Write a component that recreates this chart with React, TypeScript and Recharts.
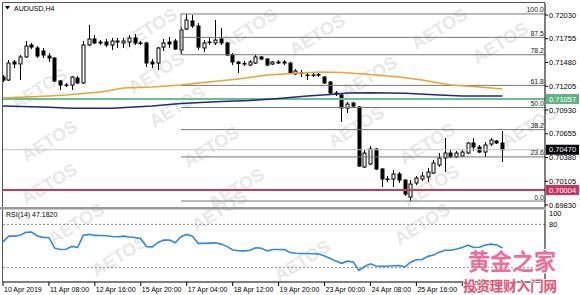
import { Bar, ComposedChart, Line, ReferenceLine, XAxis, YAxis } from "recharts";

const FONT = '"Liberation Sans", Arial, sans-serif';
const X_MAX = 94.4;

// AUDUSD H4 candles, 10 Apr - 26 Apr 2019
const opens = [
  0.71312, 0.71277, 0.71486, 0.71463, 0.71544, 0.71683, 0.71648, 0.71613, 0.71555, 0.71532,
  0.71266, 0.71219, 0.71219, 0.713, 0.71243, 0.71683, 0.71752, 0.71717, 0.71717, 0.71683,
  0.71729, 0.71706, 0.71717, 0.71764, 0.71706, 0.71706, 0.71486, 0.71474, 0.71659, 0.71717,
  0.71729, 0.71625, 0.71868, 0.71961, 0.71903, 0.71648, 0.71717, 0.71706, 0.71752, 0.71706,
  0.71567, 0.71486, 0.71468, 0.71451, 0.71474, 0.71544, 0.7152, 0.71463, 0.71486, 0.71486,
  0.71474, 0.71347, 0.71358, 0.71335, 0.71335, 0.71341, 0.71312, 0.71254, 0.71127, 0.71104,
  0.70953, 0.71011, 0.70965, 0.7027, 0.70305, 0.70478, 0.70247, 0.70131, 0.70131, 0.70189,
  0.70119, 0.69922, 0.70085, 0.70131, 0.70154, 0.702, 0.70293, 0.70374, 0.70432, 0.70386,
  0.70397, 0.70432, 0.70548, 0.70501, 0.70443, 0.70536, 0.70571, 0.70548,
];
const highs = [
  0.71335, 0.71509, 0.71509, 0.71567, 0.71729, 0.71706, 0.71671, 0.71648, 0.7159, 0.71544,
  0.71277, 0.71243, 0.71324, 0.71324, 0.71729, 0.71914, 0.71798, 0.7174, 0.71752, 0.71764,
  0.71764, 0.71764, 0.71798, 0.7181, 0.71729, 0.71717, 0.7152, 0.71659, 0.71752, 0.71775,
  0.71752, 0.71891, 0.72042, 0.7203, 0.71937, 0.7174, 0.71775, 0.71972, 0.71879, 0.71717,
  0.7159, 0.71497, 0.71497, 0.71509, 0.71567, 0.71555, 0.71532, 0.71497, 0.71509, 0.71509,
  0.71486, 0.71405, 0.71393, 0.7137, 0.7137, 0.7137, 0.71324, 0.71266, 0.7115, 0.71115,
  0.71023, 0.71023, 0.70976, 0.70467, 0.70513, 0.7049, 0.70258, 0.70166, 0.70235, 0.70212,
  0.70131, 0.70119, 0.70166, 0.70212, 0.70258, 0.70351, 0.70432, 0.70606, 0.70467, 0.70455,
  0.70467, 0.70559, 0.70606, 0.70525, 0.70559, 0.70606, 0.70582, 0.70687,
];
const lows = [
  0.71254, 0.71266, 0.71416, 0.71277, 0.71532, 0.71636, 0.71532, 0.71532, 0.71486, 0.71254,
  0.71162, 0.71196, 0.71162, 0.71231, 0.71231, 0.71671, 0.71694, 0.71683, 0.71659, 0.71625,
  0.71648, 0.71648, 0.71659, 0.71683, 0.71683, 0.71428, 0.71416, 0.71393, 0.71613, 0.71648,
  0.71625, 0.71567, 0.71856, 0.71879, 0.71625, 0.71602, 0.71683, 0.71683, 0.71683, 0.71555,
  0.71451, 0.71358, 0.71439, 0.71439, 0.71463, 0.71509, 0.71439, 0.71451, 0.71463, 0.71451,
  0.71347, 0.71335, 0.71312, 0.71277, 0.71312, 0.71312, 0.71231, 0.71115, 0.71092, 0.70791,
  0.70895, 0.70953, 0.7027, 0.70258, 0.70293, 0.70235, 0.70038, 0.70096, 0.70038, 0.70085,
  0.69934, 0.69876, 0.70061, 0.70108, 0.70096, 0.70189, 0.7027, 0.70212, 0.70374, 0.70374,
  0.70386, 0.7042, 0.70455, 0.70432, 0.70386, 0.70513, 0.70536, 0.70328,
];
const closes = [
  0.71277, 0.71474, 0.71463, 0.71544, 0.71671, 0.71659, 0.71555, 0.71567, 0.71532, 0.71266,
  0.71219, 0.71214, 0.71312, 0.71243, 0.71683, 0.71752, 0.71706, 0.71706, 0.71683, 0.71729,
  0.71717, 0.71729, 0.71764, 0.71706, 0.717, 0.71474, 0.71463, 0.71648, 0.71706, 0.71694,
  0.71636, 0.71856, 0.71972, 0.71903, 0.71659, 0.71706, 0.71711, 0.7174, 0.71706, 0.71567,
  0.71486, 0.71468, 0.71463, 0.71486, 0.71544, 0.7152, 0.71451, 0.71486, 0.71474, 0.71474,
  0.71358, 0.71381, 0.71353, 0.7133, 0.7133, 0.71335, 0.71243, 0.71127, 0.71115, 0.70953,
  0.70999, 0.70976, 0.70281, 0.70432, 0.70478, 0.70247, 0.70131, 0.70125, 0.70189, 0.70119,
  0.69957, 0.70073, 0.70142, 0.70166, 0.70212, 0.70316, 0.70374, 0.70432, 0.70386, 0.70432,
  0.70443, 0.70548, 0.70501, 0.70443, 0.70525, 0.70582, 0.70548, 0.7047,
];

const rsiValues = [
  55.8, 63.7, 63.7, 65, 69, 69.3, 64, 62, 61.5, 47,
  45.2, 45.4, 49.5, 48, 65, 66.2, 64.7, 64.5, 64.2, 63.3,
  62.8, 63.7, 62.5, 61.8, 60, 49, 48.8, 54.9, 58.2, 58.2,
  54.4, 62.8, 66.1, 63.7, 53.6, 53.6, 54, 54.4, 52.6, 49.5,
  44.4, 43.5, 43.2, 44.2, 47.6, 46.8, 43.2, 45.2, 45.2, 45,
  41, 40, 39.6, 39.6, 39.3, 38.8, 36, 32.6, 29, 26,
  28.9, 27.9, 16, 21.5, 25.2, 22.3, 21.9, 21.9, 22.5, 22.8,
  21, 27.5, 31, 31.2, 35.6, 37.4, 41.5, 44.2, 44.2, 45.8,
  47.8, 51.2, 48, 48.2, 51.5, 52.6, 51.5, 47.18,
];

// moving averages, read at a few bars
const fastMaIdx = [0, 4, 8, 11, 17, 21, 26, 31, 34, 41, 46, 52, 55, 59, 64, 69, 73, 78, 83, 87];
const fastMaVals = [
  0.71069, 0.71081, 0.71092, 0.71104, 0.71138, 0.71185, 0.71196, 0.71219, 0.71243, 0.71289,
  0.71335, 0.71358, 0.7137, 0.71364, 0.71341, 0.71312, 0.71277, 0.71219, 0.71196, 0.71173,
];
const slowMaIdx = [0, 8, 12, 19, 26, 31, 38, 43, 48, 53, 57, 60, 64, 70, 76, 80, 87];
const slowMaVals = [
  0.70976, 0.70961, 0.70949, 0.70949, 0.70976, 0.71005, 0.71029, 0.7104, 0.71063, 0.71092,
  0.7111, 0.71127, 0.7113, 0.71123, 0.71104, 0.71092, 0.71092,
];

const fibStart = 31;
const fibNames = ["100.0", "87.5", "78.2", "61.8", "50.0", "38.2", "23.6", "0.0"];
const fibLevels = [0.72042, 0.71771, 0.7157, 0.71215, 0.70959, 0.70703, 0.70387, 0.69876];

const priceTicks = [0.7203, 0.71755, 0.7148, 0.71205, 0.7093, 0.70655, 0.7038, 0.70105, 0.6983];
const greenLevel = 0.71057;
const redLevel = 0.70004;
const lastPrice = 0.7047;

const dateIdx = [0, 8, 16, 24, 32, 40, 48, 56, 64, 72, 80];
const dateLabels = [
  "10 Apr 2019", "11 Apr 08:00", "12 Apr 16:00", "15 Apr 20:00", "17 Apr 04:00", "18 Apr 12:00",
  "19 Apr 20:00", "23 Apr 00:00", "24 Apr 08:00", "25 Apr 16:00", "26 Apr 20:00",
];

// background "AETOS" stamps (kept inside the frame)
const wmX = [150, 157, 40, 318, 440, 501, 250, 50, 50, 178, 212, 237, 370, 357, 428, 530, 432, 77, 120, 220, 423, 303];
const wmY = [30, 74, 90, 36, 30, 44, 30, 142, 185, 108, 148, 190, 78, 128, 145, 128, 187, 225, 257, 212, 225, 262];

const fastAt = new Map(fastMaIdx.map((k, j) => [k, fastMaVals[j]]));
const slowAt = new Map(slowMaIdx.map((k, j) => [k, slowMaVals[j]]));

const data = opens.map((open, i) => ({
  i,
  open,
  high: highs[i],
  low: lows[i],
  close: closes[i],
  range: [lows[i], highs[i]],
  rsi: rsiValues[i],
  maFast: fastAt.get(i) ?? null,
  maSlow: slowAt.get(i) ?? null,
}));

function Candle(props: any) {
  const { x, y, width, height, payload } = props;
  if (x == null || !payload) return null;
  const top = Math.min(y, y + height);
  const h = Math.abs(height);
  const span = payload.high - payload.low;
  const toY = (v: number) => (span > 0 ? top + ((payload.high - v) / span) * h : top);
  const cx = Math.round(x + width / 2) + 0.5;
  const yo = toY(payload.open);
  const yc = toY(payload.close);
  const up = payload.close >= payload.open;
  return (
    <g>
      <line x1={cx} x2={cx} y1={top} y2={top + h} stroke="#000" />
      <rect
        x={cx - 1.5}
        y={Math.min(yo, yc)}
        width={3}
        height={Math.max(Math.abs(yo - yc), 0.5)}
        fill={up ? "#fff" : "#000"}
        stroke="#000"
      />
    </g>
  );
}

function PriceTick({ x, y, payload }: any) {
  return (
    <g>
      <line x1={x} x2={x + 3} y1={y} y2={y} stroke="#000" />
      <text x={x + 4} y={y + 2.7} fontSize={7.5} fontFamily={FONT} fill="#000">
        {Number(payload.value).toFixed(5)}
      </text>
    </g>
  );
}

function RsiTick({ x, y, payload }: any) {
  return (
    <text x={x + 4} y={payload.value === 100 ? y + 6 : y + 2.7} fontSize={7.5} fontFamily={FONT} fill="#000">
      {payload.value}
    </text>
  );
}

function DateTick({ x, y, payload }: any) {
  const k = dateIdx.indexOf(payload.value);
  return (
    <g>
      <line x1={x} x2={x} y1={y} y2={y + 4} stroke="#000" />
      <text x={x + 1} y={y + 10} fontSize={7} fontFamily={FONT} fill="#000">
        {dateLabels[k]}
      </text>
    </g>
  );
}

const priceBox = (bg: string, value: number) => (p: any) => {
  const vb = p.viewBox;
  const bx = vb.x + vb.width + 1;
  return (
    <g>
      <rect x={bx} y={vb.y - 5} width={33} height={10} fill={bg} />
      <text x={bx + 3} y={vb.y + 2.7} fontSize={7.5} fontFamily={FONT} fill="#fff">
        {value.toFixed(5)}
      </text>
    </g>
  );
};

const fibLabel = (name: string) => (p: any) => {
  const vb = p.viewBox;
  return (
    <text x={vb.x + vb.width - 1} y={vb.y - 1.5} textAnchor="end" fontSize={7} fontFamily={FONT} fill="#222">
      {name}
    </text>
  );
};

export default function App() {
  return (
    <div style={{ position: "absolute", left: 0, top: 0, width: 580, height: 295, background: "#fff", overflow: "hidden" }}>
      <svg width={580} height={295} style={{ position: "absolute", left: 0, top: 0 }}>
        {wmX.map((wx, k) => (
          <text
            key={k}
            x={wx}
            y={wmY[k]}
            textAnchor="middle"
            dominantBaseline="middle"
            transform={`rotate(-32 ${wx} ${wmY[k]})`}
            fontSize={18}
            fontWeight="bold"
            fontFamily={FONT}
            fill="#e8e8e8"
          >
            AETOS
          </text>
        ))}
      </svg>

      <div style={{ position: "absolute", left: 0, top: 0 }}>
        <ComposedChart width={580} height={212} data={data} margin={{ top: 3, right: 0, bottom: 5, left: 3 }}>
          <XAxis dataKey="i" type="number" domain={[0, X_MAX]} hide allowDataOverflow />
          <YAxis
            orientation="right"
            width={35}
            domain={[0.69807, 0.72169]}
            ticks={priceTicks}
            interval={0}
            tickSize={0}
            tickMargin={0}
            tickLine={false}
            tick={<PriceTick />}
            axisLine={{ stroke: "#000" }}
            allowDataOverflow
          />
          <ReferenceLine y={lastPrice} stroke="#c4c4c4" label={{ content: priceBox("#000", lastPrice) }} />
          {fibLevels.map((lv, k) => (
            <ReferenceLine
              key={fibNames[k]}
              segment={[{ x: fibStart, y: lv }, { x: X_MAX, y: lv }]}
              stroke="#777"
              label={{ content: fibLabel(fibNames[k]) }}
            />
          ))}
          <ReferenceLine segment={[{ x: fibStart, y: fibLevels[0] }, { x: fibStart, y: fibLevels[2] }]} stroke="#777" />
          <ReferenceLine y={greenLevel} stroke="#6cbf8e" strokeWidth={2} label={{ content: priceBox("#5fb483", greenLevel) }} />
          <ReferenceLine y={redLevel} stroke="#c43a5c" strokeWidth={2} label={{ content: priceBox("#d0305a", redLevel) }} />
          <Bar dataKey="range" barSize={3} shape={(p: any) => <Candle {...p} />} isAnimationActive={false} />
          <Line dataKey="maFast" type="linear" stroke="#e6a532" strokeWidth={1.5} dot={false} connectNulls isAnimationActive={false} />
          <Line dataKey="maSlow" type="linear" stroke="#1c2a86" strokeWidth={1.5} dot={false} connectNulls isAnimationActive={false} />
        </ComposedChart>
      </div>

      <div style={{ position: "absolute", left: 0, top: 208 }}>
        <ComposedChart width={580} height={87} data={data} margin={{ top: 2, right: 0, bottom: 0, left: 3 }}>
          <XAxis
            dataKey="i"
            type="number"
            domain={[0, X_MAX]}
            ticks={dateIdx}
            interval={0}
            height={13}
            tickSize={0}
            tickMargin={0}
            tickLine={false}
            tick={<DateTick />}
            axisLine={{ stroke: "#000" }}
            allowDataOverflow
          />
          <YAxis
            orientation="right"
            width={35}
            domain={[0, 100]}
            ticks={[100, 80]}
            interval={0}
            tickSize={0}
            tickMargin={0}
            tickLine={false}
            tick={<RsiTick />}
            axisLine={{ stroke: "#000" }}
          />
          <ReferenceLine y={80} stroke="#8a8a8a" strokeDasharray="2 2" />
          <ReferenceLine y={20} stroke="#8a8a8a" strokeDasharray="2 2" />
          <Line dataKey="rsi" type="linear" stroke="#2e8ad8" strokeWidth={1.6} dot={false} isAnimationActive={false} />
        </ComposedChart>
      </div>

      <svg width={580} height={295} style={{ position: "absolute", left: 0, top: 0, pointerEvents: "none" }}>
        <line x1={2.5} x2={2.5} y1={2.5} y2={282} stroke="#555" />
        <line x1={2.5} x2={545} y1={2.5} y2={2.5} stroke="#555" />
        <rect x={0} y={207} width={546} height={2.5} fill="#9a9a9a" />
        <path d="M5,6 L10,6 L7.5,9.5 Z" fill="#000" />
        <text x={14} y={10.5} fontSize={7} fontFamily={FONT} fill="#000">
          AUDUSD,H4
        </text>
        <text x={6} y={217} fontSize={7} fontFamily={FONT} fill="#000">
          RSI(14) 47.1820
        </text>
        <text
          x={512}
          y={270}
          textAnchor="middle"
          fontSize={23}
          fontWeight="bold"
          textLength={88}
          lengthAdjust="spacingAndGlyphs"
          fontFamily='"Noto Sans CJK SC", sans-serif'
          fill="#ee6e98"
          stroke="#fff"
          strokeWidth={2}
          paintOrder="stroke"
        >
          黄金之家
        </text>
        <text
          x={510}
          y={291}
          textAnchor="middle"
          fontSize={13.5}
          fontWeight="bold"
          textLength={94}
          lengthAdjust="spacingAndGlyphs"
          fontFamily='"Noto Sans CJK SC", sans-serif'
          fill="#e8506e"
          stroke="#fff"
          strokeWidth={1.5}
          paintOrder="stroke"
        >
          投资理财入门网
        </text>
      </svg>
    </div>
  );
}
